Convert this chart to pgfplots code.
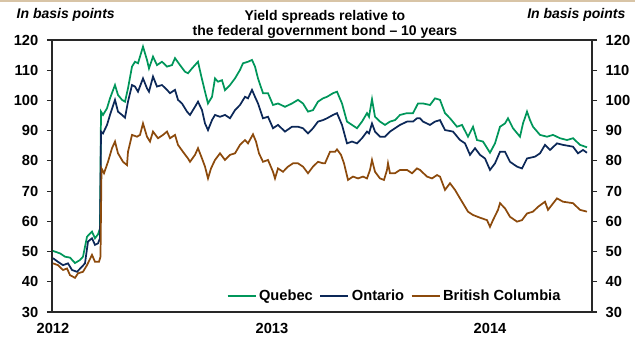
\documentclass[border=0pt]{standalone}
\usepackage{pgfplots}
\pgfplotsset{compat=1.18}
\usepackage{fontspec}
\setmainfont{Liberation Sans}
\definecolor{qcgreen}{RGB}{0,150,90}
\definecolor{onnavy}{RGB}{12,40,88}
\definecolor{bcbrown}{RGB}{140,74,12}
\definecolor{tanline}{RGB}{216,196,166}
\definecolor{axgray}{RGB}{40,40,40}
\begin{document}
\begin{tikzpicture}
\useasboundingbox (-39pt,-21.75pt) rectangle (437.25pt,234pt);
\draw[tanline,line width=1.2pt] (-39pt,233.4pt) -- (437.25pt,233.4pt);
\pgfplotsset{
  every axis/.append style={
    width=405pt, height=204pt, scale only axis,
    xmin=52, xmax=592, ymin=30, ymax=120,
    ytick={30,40,...,120},
    tick align=outside, major tick length=3.75pt,
    axis line style={axgray,line width=0.8pt},
    every tick/.style={axgray,line width=0.8pt},
    /pgf/number format/assume math mode=true,
    ticklabel style={font=\fontsize{11}{13}\selectfont\bfseries},
  }
}
\begin{axis}[
  at={(0,0)}, anchor=south west,
  ytick pos=left,
  xtick={53,272,490},
  xticklabels={2012,2013,2014},
  xtick style={draw=none},
  xticklabel style={yshift=-1pt},
  yticklabel style={xshift=-3pt},
  legend style={at={(0.635,0.059)}, anchor=center, draw=none, fill=none,
    legend columns=3, font=\fontsize{11}{13}\selectfont\bfseries,
    /tikz/every even column/.append style={column sep=3pt},
    inner sep=0pt},
  legend image code/.code={\draw[#1] (0pt,0pt) -- (21pt,0pt);},
]
\addplot[qcgreen, line width=1.3pt] coordinates {
(53,50.2)(60,49.4)(65,48.3)(70,48.0)(75,46.2)(80,47.2)(83,48.3)(87,54.9)(92,56.6)(95,54.4)(98,55.7)(100,57.7)
(101,96.3)(103,95.2)(107,97.4)(110,100.7)(115,105.1)(118,101.8)(122,100.2)(125,99.6)(128,104.0)(132,111.2)
(135,112.8)(138,112.3)(143,117.8)(147,113.4)(149,110.6)(153,114.5)(157,111.7)(162,112.8)(167,111.2)(172,111.7)
(175,114.0)(180,111.7)(185,109.5)(188,109.0)(192,110.6)(198,112.8)(201,108.4)(205,102.9)(208,99.0)(212,101.2)
(215,107.3)(218,106.2)(222,106.7)(225,103.4)(230,105.1)(235,107.3)(240,110.1)(243,112.3)(248,112.8)(252,113.4)
(255,111.2)(258,107.3)(263,102.4)(268,102.4)(273,98.5)(278,99.0)(285,97.9)(292,99.0)(298,100.2)(303,99.0)
(308,96.3)(313,96.8)(318,99.6)(323,100.7)(327,101.2)(333,102.4)(337,102.9)(342,99.0)(347,93.0)(352,91.9)
(357,90.8)(362,93.0)(367,95.8)(369,94.6)(372,100.4)(375,94.6)(380,93.0)(385,91.9)(390,93.0)(395,93.5)
(400,95.2)(407,95.8)(413,95.8)(418,99.0)(423,99.0)(430,98.5)(435,100.7)(440,100.2)(445,95.8)(450,94.1)
(457,91.3)(462,91.9)(468,88.0)(473,91.3)(477,86.9)(483,86.4)(490,82.7)(495,85.8)(500,91.3)(505,92.4)
(508,94.1)(513,90.8)(520,88.0)(523,92.4)(527,96.3)(530,93.5)(533,91.3)(540,88.6)(547,88.0)(553,88.6)
(560,87.5)(567,86.9)(573,87.5)(580,85.3)(587,84.5)
};
\addlegendentry{Quebec}
\addplot[onnavy, line width=1.3pt] coordinates {
(53,47.8)(58,46.6)(63,45.5)(68,46.1)(72,43.9)(77,43.3)(82,45.0)(85,46.1)(88,53.3)(92,54.4)(95,52.2)(98,52.7)
(100,54.4)(101,89.7)(103,89.1)(107,91.9)(110,95.2)(115,100.2)(118,96.3)(122,95.2)(125,94.3)(128,99.6)
(132,105.1)(135,104.6)(138,102.9)(143,107.3)(147,104.0)(149,102.9)(153,107.9)(157,104.6)(162,105.1)(167,103.5)
(170,102.4)(175,103.5)(178,100.2)(182,99.0)(187,96.3)(190,95.2)(195,97.9)(198,99.6)(202,96.8)(205,92.4)
(208,90.2)(212,93.5)(215,95.2)(220,94.6)(225,95.2)(230,94.1)(235,96.8)(240,98.5)(245,101.2)(248,100.7)
(252,103.5)(255,101.2)(258,99.0)(263,94.1)(268,94.6)(273,90.8)(278,91.9)(285,89.7)(292,91.3)(298,91.3)
(303,90.8)(308,89.1)(313,90.8)(318,93.0)(323,93.5)(327,94.1)(333,95.2)(337,95.8)(342,91.9)(347,85.8)
(352,86.4)(357,85.8)(362,87.5)(367,89.7)(369,89.1)(372,92.4)(375,89.7)(380,88.0)(385,88.0)(390,89.7)
(395,90.8)(400,91.9)(407,93.0)(413,93.0)(417,94.1)(420,94.1)(423,93.0)(430,91.9)(435,93.0)(440,93.5)
(445,90.2)(453,89.7)(460,86.9)(465,85.8)(470,82.0)(475,84.2)(480,82.0)(485,80.8)(490,77.0)(495,79.2)
(500,83.0)(505,83.0)(510,79.7)(517,78.1)(522,77.5)(527,80.8)(535,81.4)(540,82.5)(545,85.3)(550,83.6)
(557,85.8)(563,85.3)(573,84.7)(578,82.5)(583,83.6)(587,82.7)
};
\addlegendentry{Ontario}
\addplot[bcbrown, line width=1.3pt] coordinates {
(53,46.1)(58,45.5)(63,43.9)(67,44.4)(70,42.2)(75,41.3)(78,42.8)(83,43.3)(87,45.5)(92,48.9)(95,46.6)(99,46.6)
(100.5,48.3)(101.5,77.5)(104,75.9)(108,79.7)(112,84.2)(115,86.4)(118,82.5)(123,79.7)(127,78.6)(128,83.0)
(132,88.6)(137,88.0)(140,88.6)(143,92.4)(147,88.0)(150,86.4)(153,89.7)(158,87.5)(163,88.6)(167,89.7)
(170,87.5)(175,88.6)(178,85.3)(183,83.0)(188,80.8)(190,79.7)(195,82.0)(198,84.2)(202,80.8)(205,78.1)
(208,74.2)(211,77.5)(215,80.3)(220,82.5)(225,80.3)(230,82.0)(235,82.5)(240,85.3)(245,86.9)(248,85.8)
(253,88.8)(256,86.4)(259,82.5)(263,79.7)(268,80.3)(273,76.4)(275,74.2)(278,77.5)(283,76.4)(288,78.1)
(293,79.2)(298,79.2)(303,78.1)(308,75.9)(313,78.1)(318,79.7)(323,79.2)(325,79.2)(330,83.0)(335,83.0)
(337,83.8)(341,82.0)(344,79.2)(348,73.7)(353,74.8)(358,74.2)(363,74.8)(367,74.2)(370,77.0)(372,80.3)
(375,76.4)(380,74.2)(384,73.7)(387,77.0)(388,79.2)(390,75.9)(395,75.9)(400,77.0)(407,77.0)(412,75.9)
(417,77.5)(420,77.0)(427,74.8)(432,74.2)(437,75.3)(440,74.8)(445,70.4)(450,72.6)(455,70.4)(460,67.6)
(468,63.2)(473,62.1)(480,61.2)(487,60.4)(490,58.2)(493,60.4)(498,63.8)(500,66.0)(505,64.3)(510,61.5)
(517,59.9)(522,60.4)(527,62.6)(533,63.2)(538,64.8)(545,66.5)(548,63.8)(557,67.6)(563,66.5)(573,66.0)
(580,63.8)(587,63.2)
};
\addlegendentry{British Columbia}
\end{axis}
\begin{axis}[
  at={(0,0)}, anchor=south west,
  axis x line=none,
  axis y line*=right,
  yticklabel style={xshift=3pt},
]
\addplot[draw=none] coordinates {(52,30)};
\end{axis}
\node[anchor=west, font=\fontsize{10.5}{12}\selectfont\bfseries\itshape] at (-30pt,222.75pt) {In basis points};
\node[anchor=east, font=\fontsize{10.5}{12}\selectfont\bfseries\itshape] at (433.5pt,222.75pt) {In basis points};
\node[align=center, font=\fontsize{10.5}{11.5}\selectfont\bfseries] at (204.75pt,215.5pt) {Yield spreads relative to\\the federal government bond -- 10 years};
\end{tikzpicture}
\end{document}
